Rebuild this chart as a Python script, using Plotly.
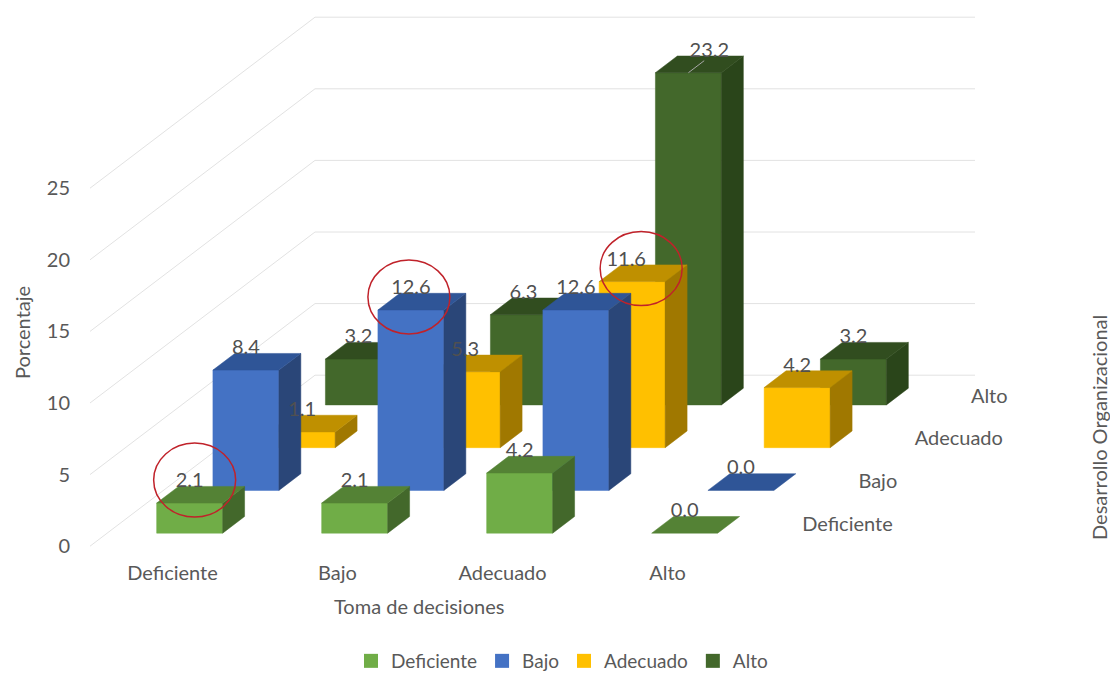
import plotly.graph_objects as go

# Chart data: percentage per pair of ratings
categories = ["Deficiente", "Bajo", "Adecuado", "Alto"]
series_names = ["Deficiente", "Bajo", "Adecuado", "Alto"]
deficiente = [2.1, 2.1, 4.2, 0.0]
bajo = [8.4, 12.6, 12.6, 0.0]
adecuado = [1.1, 5.3, 11.6, 4.2]
alto = [3.2, 6.3, 23.2, 3.2]
value_ticks = [0, 5, 10, 15, 20, 25]

rows = [deficiente, bajo, adecuado, alto]
FRONT = ["#70AD47", "#4472C4", "#FFC000", "#43682B"]
TOP = ["#548235", "#2F5597", "#BF9000", "#314D1F"]
SIDE = ["#43682B", "#2A4678", "#A07800", "#2A451A"]
TEXT = "#595959"
GRID = "#E2E2E2"
FONT = "Lato"
FONT_SIZE = 20

# Oblique projection: one row of depth shifts a point along both plot axes
PX_PER_CAT = 165.0
PX_PER_UNIT = 14.32
DEPTH_X = 56.25 / PX_PER_CAT
DEPTH_Y = 42.75 / PX_PER_UNIT
BAR_W = 0.40
BAR_D = 0.39


def project(cat, depth, value):
    return cat + depth * DEPTH_X, value + depth * DEPTH_Y


def polygons(faces):
    xs, ys = [], []
    for face in faces:
        for c, d, v in face + [face[0]]:
            x, y = project(c, d, v)
            xs.append(x)
            ys.append(y)
        xs.append(None)
        ys.append(None)
    return xs, ys


def add_faces(fig, faces, color):
    xs, ys = polygons(faces)
    fig.add_trace(go.Scatter(x=xs, y=ys, mode="lines", fill="toself", fillcolor=color,
                             line=dict(color=color, width=0.5), hoverinfo="skip",
                             showlegend=False))


fig = go.Figure()

# Floor and back wall gridlines
gx, gy = [], []
for tick in value_ticks:
    for c, d in [(-0.5, 0), (-0.5, 4), (3.5, 4)]:
        x, y = project(c, d, tick)
        gx.append(x)
        gy.append(y)
    gx.append(None)
    gy.append(None)
fig.add_trace(go.Scatter(x=gx, y=gy, mode="lines", line=dict(color=GRID, width=1),
                         hoverinfo="skip", showlegend=False))

# Bars, painted from the back row to the front row
for r in reversed(range(4)):
    d0 = r + 0.5 - BAR_D / 2
    d1 = r + 0.5 + BAR_D / 2
    front, side, top = [], [], []
    for i, v in enumerate(rows[r]):
        c0, c1 = i - BAR_W / 2, i + BAR_W / 2
        if v > 0:
            front.append([(c0, d0, 0), (c1, d0, 0), (c1, d0, v), (c0, d0, v)])
            side.append([(c1, d0, 0), (c1, d1, 0), (c1, d1, v), (c1, d0, v)])
        top.append([(c0, d0, v), (c1, d0, v), (c1, d1, v), (c0, d1, v)])
    add_faces(fig, front, FRONT[r])
    add_faces(fig, side, SIDE[r])
    add_faces(fig, top, TOP[r])

# Leader line of the tallest bar's label
lx0, ly0 = project(2, 3.5 - BAR_D / 2, alto[2])
lx1, ly1 = project(2, 3.5 - BAR_D / 2 + BAR_D * 0.72, alto[2])
fig.add_trace(go.Scatter(x=[lx0, lx1], y=[ly0, ly1], mode="lines",
                         line=dict(color="#A8A8A8", width=1), hoverinfo="skip",
                         showlegend=False))


def label_anchor(i, r, v):
    x = project(i, r + 0.5 - BAR_D / 2, v)[0]
    y = project(i, r + 0.5 + BAR_D / 2, v)[1] + 0.3
    return x, y


# Value labels; a few of them sit away from their bar
label_shift = {(2, 3): (0.127, 0.0), (2, 2): (-0.036, 0.0), (1, 2): (-0.012, 0.0)}
tx, ty, tt = [], [], []
for r in range(4):
    for i, v in enumerate(rows[r]):
        x, y = label_anchor(i, r, v)
        dx, dy = label_shift.get((i, r), (0, 0))
        tx.append(x + dx)
        ty.append(y + dy)
        tt.append(f"{v:.1f}")
fig.add_trace(go.Scatter(x=tx, y=ty, text=tt, mode="text", textposition="middle center",
                         textfont=dict(family=FONT, size=FONT_SIZE, color="#505050"),
                         hoverinfo="skip", showlegend=False))

# Depth axis labels, beside the right end of each row
dx_lab, dy_lab = [], []
for r in range(4):
    x, y = project(3.5, r + 0.5, 0)
    dx_lab.append(x + 24 / PX_PER_CAT)
    dy_lab.append(y - 1 / PX_PER_UNIT)
fig.add_trace(go.Scatter(x=dx_lab, y=dy_lab, text=series_names, mode="text",
                         textposition="middle right",
                         textfont=dict(family=FONT, size=FONT_SIZE, color=TEXT),
                         hoverinfo="skip", showlegend=False))

# Legend entries
for name, color in zip(series_names, FRONT):
    fig.add_trace(go.Scatter(x=[None], y=[None], name=name, mode="markers",
                             marker=dict(symbol="square", size=14, color=color)))

# Red circles around the highlighted cells, offset in pixels from the value label
highlights = [(0, 0, 5, -2), (1, 1, -2, 8), (2, 2, 9, 8)]
shapes = []
for i, r, ox, oy in highlights:
    x, y = label_anchor(i, r, rows[r][i])
    cx, cy = x + ox / PX_PER_CAT, y - oy / PX_PER_UNIT
    shapes.append(dict(type="circle", xref="x", yref="y", layer="above",
                       x0=cx - 41 / PX_PER_CAT, x1=cx + 41 / PX_PER_CAT,
                       y0=cy - 37 / PX_PER_UNIT, y1=cy + 37 / PX_PER_UNIT,
                       line=dict(color="#C0222A", width=1.5)))

PLOT_LEFT, PLOT_BOTTOM = 71, 558
CAT0_PX, ZERO_PX = 172.5, 546.2


def title_note(text, px, py, angle=0):
    return dict(text=text, xref="paper", yref="paper", showarrow=False, textangle=angle,
                x=(px - PLOT_LEFT) / (1110 - PLOT_LEFT), y=(PLOT_BOTTOM - py) / PLOT_BOTTOM,
                xanchor="center", yanchor="middle",
                font=dict(family=FONT, size=FONT_SIZE, color=TEXT))


fig.update_layout(
    width=1110, height=675, paper_bgcolor="white", plot_bgcolor="white",
    margin=dict(l=PLOT_LEFT, r=0, t=0, b=675 - PLOT_BOTTOM),
    font=dict(family=FONT, size=FONT_SIZE, color=TEXT),
    shapes=shapes,
    xaxis=dict(range=[(PLOT_LEFT - CAT0_PX) / PX_PER_CAT, (1110 - CAT0_PX) / PX_PER_CAT],
               tickmode="array", tickvals=[0, 1, 2, 3], ticktext=categories,
               showgrid=False, zeroline=False, showline=False, ticks="",
               ticklabelstandoff=1),
    yaxis=dict(range=[(ZERO_PX - PLOT_BOTTOM) / PX_PER_UNIT, ZERO_PX / PX_PER_UNIT],
               tickmode="array", tickvals=value_ticks,
               showgrid=False, zeroline=False, showline=False, ticks=""),
    legend=dict(orientation="h", xref="container", yref="container",
                x=562 / 1110, xanchor="center", y=1 - 661 / 675, yanchor="middle",
                font=dict(family=FONT, size=19, color=TEXT)),
    annotations=[
        title_note("Toma de decisiones", 419, 606),
        title_note("Porcentaje", 22, 333, -90),
        title_note("Desarrollo Organizacional", 1099, 428, -90),
    ],
)

fig.write_html("out.html")
